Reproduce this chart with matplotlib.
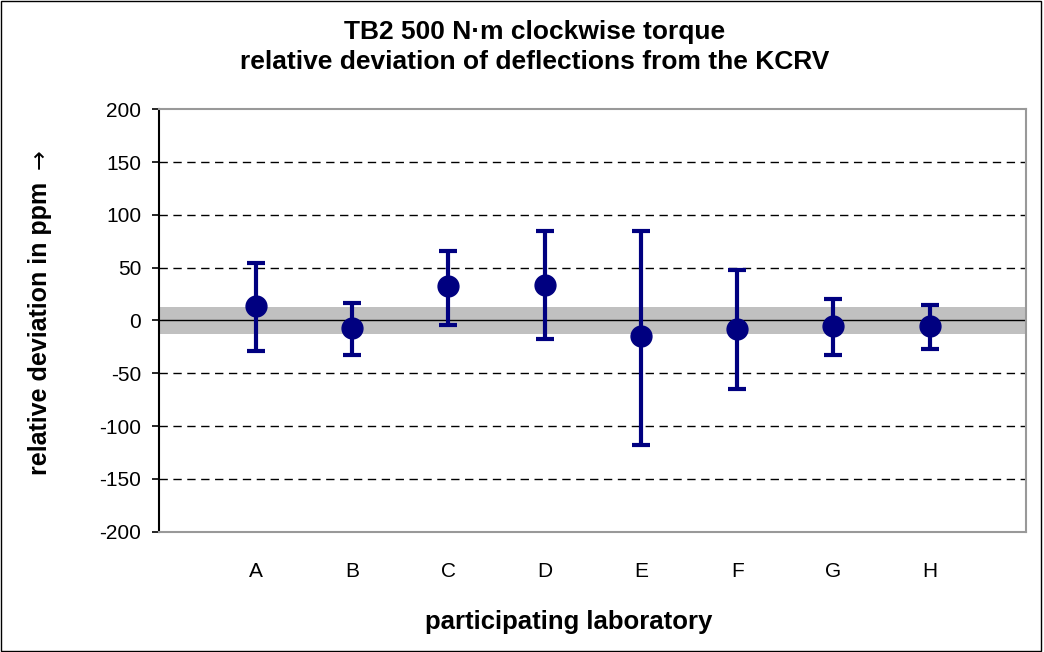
import numpy as np
import matplotlib
matplotlib.use("Agg")
import matplotlib.pyplot as plt
from matplotlib.patches import Rectangle

plt.rcParams["font.family"] = ["Liberation Sans", "DejaVu Sans"]

# data
labs = ["A", "B", "C", "D", "E", "F", "G", "H"]
deviation = [13.5, -7.0, 32.5, 34.0, -15.0, -8.5, -5.0, -5.5]
err_low = [42.0, 25.5, 36.5, 51.5, 103.0, 56.0, 27.5, 21.5]
err_high = [41.0, 24.0, 33.5, 51.0, 99.5, 56.0, 25.5, 20.5]
kcrv_band = 12.5
yticks = [-200, -150, -100, -50, 0, 50, 100, 150, 200]

fig = plt.figure(figsize=(10.44, 6.52), dpi=100)
ax = fig.add_axes([0.1526, 0.1845, 0.8302, 0.6479])

x = np.arange(1, len(labs) + 1)

# KCRV uncertainty band and zero line
ax.axhspan(-kcrv_band, kcrv_band, color="#c0c0c0", zorder=1, lw=0)
ax.axhline(0, color="black", lw=1.0, zorder=2)

# dashed grid (not at 0 or the limits)
for yv in yticks:
    if yv not in (0, -200, 200):
        ax.axhline(yv, color="black", lw=1.0, ls=(0, (6, 4)), zorder=1.5)

ax.errorbar(x, deviation, yerr=[err_low, err_high], fmt="o", color="#000080",
            ms=15, elinewidth=3, capsize=6.5, capthick=3, zorder=3)

ax.set_xlim(0, 9)
ax.set_ylim(-200, 200)
ax.set_yticks(yticks)
ax.set_yticklabels([str(v) for v in yticks], fontsize=15)
ax.set_xticks(x)
ax.set_xticklabels(labs, fontsize=15)
ax.tick_params(axis="x", length=0, pad=22)
ax.tick_params(axis="y", length=5, width=1.2, direction="out", pad=8)

for side in ("top", "right", "bottom"):
    ax.spines[side].set_color("#999999")
    ax.spines[side].set_linewidth(1.5)
ax.spines["left"].set_color("black")
ax.spines["left"].set_linewidth(1.5)

fig.text(569 / 1044, 1 - 622 / 652, "participating laboratory", fontsize=18.5,
         fontweight="bold", ha="center", va="center")
fig.text(40 / 1044, 1 - 328 / 652, "relative deviation in ppm", fontsize=18,
         fontweight="bold", ha="center", va="center", rotation=90)
fig.text(40 / 1044, 1 - 159 / 652, "\u2192", fontsize=17, family="DejaVu Sans",
         ha="center", va="center", rotation=90)
fig.text(535 / 1044, 1 - 32 / 652, "TB2 500 N\u00b7m clockwise torque", fontsize=19,
         fontweight="bold", ha="center", va="center")
fig.text(535 / 1044, 1 - 62 / 652, "relative deviation of deflections from the KCRV",
         fontsize=19, fontweight="bold", ha="center", va="center")

# chart area border
fig.patches.append(Rectangle((0.001, 0.002), 0.996, 0.996, transform=fig.transFigure,
                             fill=False, edgecolor="black", lw=1.0))

fig.savefig("out.png", dpi=100)
